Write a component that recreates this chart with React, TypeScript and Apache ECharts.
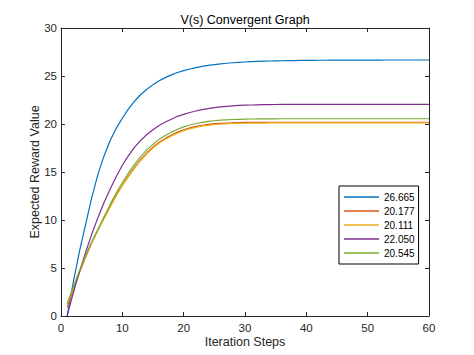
import React, { useEffect, useRef } from "react";
import * as echarts from "echarts";

const steps = Array.from({ length: 60 }, (_, i) => i + 1);

const seriesNames = ["26.665", "20.177", "20.111", "22.050", "20.545"];
const seriesColors = ["#0072BD", "#D95319", "#EDB120", "#7E2F8E", "#77AC30"];

const blue = [
  0, 3.5, 6.7, 9.5, 12.3, 14.7, 16.65, 18.25, 19.55, 20.6,
  21.57, 22.37, 23.07, 23.62, 24.1, 24.5, 24.83, 25.12, 25.36, 25.56,
  25.73, 25.88, 26.0, 26.1, 26.19, 26.26, 26.33, 26.38, 26.42, 26.46,
  26.49, 26.52, 26.54, 26.56, 26.58, 26.59, 26.6, 26.61, 26.62, 26.63,
  26.63, 26.64, 26.64, 26.65, 26.65, 26.655, 26.66, 26.66, 26.66, 26.66,
  26.66, 26.66, 26.665, 26.665, 26.665, 26.665, 26.665, 26.665, 26.665, 26.665,
];

const orange = [
  0.9, 2.7, 4.5, 6.1, 7.6, 8.9, 10.2, 11.4, 12.6, 13.6,
  14.6, 15.5, 16.3, 17.0, 17.6, 18.1, 18.5, 18.85, 19.15, 19.4,
  19.6, 19.75, 19.87, 19.96, 20.03, 20.07, 20.1, 20.13, 20.15, 20.16,
  20.17, 20.17, 20.175, 20.177, 20.177, 20.177, 20.177, 20.177, 20.177, 20.177,
  20.177, 20.177, 20.177, 20.177, 20.177, 20.177, 20.177, 20.177, 20.177, 20.177,
  20.177, 20.177, 20.177, 20.177, 20.177, 20.177, 20.177, 20.177, 20.177, 20.177,
];

const yellow = [
  1.2, 2.9, 4.6, 6.2, 7.6, 8.9, 10.1, 11.3, 12.5, 13.6,
  14.5, 15.4, 16.2, 16.9, 17.5, 18.0, 18.4, 18.75, 19.05, 19.3,
  19.5, 19.65, 19.77, 19.86, 19.93, 19.98, 20.02, 20.05, 20.07, 20.08,
  20.09, 20.1, 20.1, 20.111, 20.111, 20.111, 20.111, 20.111, 20.111, 20.111,
  20.111, 20.111, 20.111, 20.111, 20.111, 20.111, 20.111, 20.111, 20.111, 20.111,
  20.111, 20.111, 20.111, 20.111, 20.111, 20.111, 20.111, 20.111, 20.111, 20.111,
];

const purple = [
  0, 2.4, 4.6, 6.6, 8.5, 10.2, 11.8, 13.2, 14.5, 15.7,
  16.7, 17.6, 18.3, 18.9, 19.4, 19.85, 20.2, 20.5, 20.8, 21.0,
  21.2, 21.35, 21.5, 21.6, 21.7, 21.78, 21.84, 21.89, 21.93, 21.96,
  21.98, 22.0, 22.01, 22.02, 22.03, 22.04, 22.04, 22.05, 22.05, 22.05,
  22.05, 22.05, 22.05, 22.05, 22.05, 22.05, 22.05, 22.05, 22.05, 22.05,
  22.05, 22.05, 22.05, 22.05, 22.05, 22.05, 22.05, 22.05, 22.05, 22.05,
];

const green = [
  1.3, 3.0, 4.7, 6.3, 7.7, 9.0, 10.3, 11.6, 12.8, 13.9,
  14.9, 15.8, 16.6, 17.3, 17.9, 18.4, 18.8, 19.15, 19.45, 19.7,
  19.9, 20.05, 20.17, 20.27, 20.34, 20.4, 20.44, 20.47, 20.49, 20.51,
  20.52, 20.53, 20.535, 20.54, 20.54, 20.545, 20.545, 20.545, 20.545, 20.545,
  20.545, 20.545, 20.545, 20.545, 20.545, 20.545, 20.545, 20.545, 20.545, 20.545,
  20.545, 20.545, 20.545, 20.545, 20.545, 20.545, 20.545, 20.545, 20.545, 20.545,
];

const allSeries = [blue, orange, yellow, purple, green];

const FONT = "'Liberation Sans', Arial, Helvetica, sans-serif";
const AX = "#262626";

export default function App() {
  const ref = useRef<HTMLDivElement>(null);
  useEffect(() => {
    document.body.style.margin = "0";
    if (!ref.current) return;
    const chart = echarts.init(ref.current, null, { renderer: "svg" });
    const axisCommon = {
      axisLine: { show: true, onZero: false, lineStyle: { color: AX, width: 1 } },
      axisTick: { show: true, inside: true, length: 4, lineStyle: { color: AX, width: 1 } },
      splitLine: { show: false },
    };
    chart.setOption({
      animation: false,
      backgroundColor: "#ffffff",
      grid: { left: 61, top: 28, width: 368, height: 288, containLabel: false },
      graphic: [
        {
          type: "text",
          x: 245,
          y: 20,
          style: {
            text: "V(s) Convergent Graph",
            fill: "#000",
            font: `12.5px ${FONT}`,
            textAlign: "center",
            textVerticalAlign: "middle",
          },
        },
      ],
      legend: {
        orient: "vertical",
        left: 339,
        top: 186,
        icon: "rect",
        itemWidth: 35,
        itemHeight: 1.3,
        itemGap: 0,
        itemTextGap: 3,
        padding: [4, 4, 4, 5],
        borderColor: "#000",
        borderWidth: 1,
        borderRadius: 0,
        backgroundColor: "#fff",
        textStyle: { fontSize: 10, lineHeight: 14, color: "#000", fontFamily: FONT },
        data: seriesNames,
      },
      xAxis: [
        {
          type: "value",
          min: 0,
          max: 60,
          interval: 10,
          position: "bottom",
          ...axisCommon,
          axisLabel: { color: AX, fontSize: 11.5, margin: 6, fontFamily: FONT },
          name: "Iteration Steps",
          nameLocation: "middle",
          nameGap: 19,
          nameMoveOverlap: false,
          nameTextStyle: { color: AX, fontSize: 12.5, fontFamily: FONT },
        },
        {
          type: "value",
          min: 0,
          max: 60,
          interval: 10,
          position: "top",
          ...axisCommon,
          axisLabel: { show: false },
        },
      ],
      yAxis: [
        {
          type: "value",
          min: 0,
          max: 30,
          interval: 5,
          position: "left",
          ...axisCommon,
          axisLabel: { color: AX, fontSize: 11.5, margin: 4, fontFamily: FONT },
          name: "Expected Reward Value",
          nameLocation: "middle",
          nameGap: 20,
          nameMoveOverlap: false,
          nameTextStyle: { color: AX, fontSize: 12.5, fontFamily: FONT },
        },
        {
          type: "value",
          min: 0,
          max: 30,
          interval: 5,
          position: "right",
          ...axisCommon,
          axisLabel: { show: false },
        },
      ],
      series: allSeries.map((vals, k) => ({
        type: "line",
        name: seriesNames[k],
        xAxisIndex: 0,
        yAxisIndex: 0,
        symbol: "none",
        showSymbol: false,
        color: seriesColors[k],
        lineStyle: { color: seriesColors[k], width: 1.2 },
        data: steps.map((s, i) => [s, vals[i]]),
      })),
    });
    return () => chart.dispose();
  }, []);
  return <div ref={ref} style={{ width: 474, height: 355 }} />;
}
